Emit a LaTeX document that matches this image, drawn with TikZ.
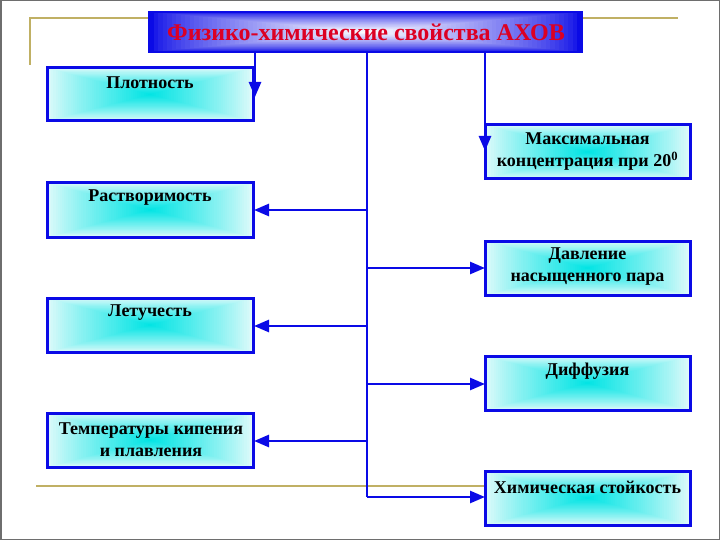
\documentclass[tikz,border=0pt]{standalone}
\usepackage{fontspec}
\setmainfont{Liberation Serif}
\usetikzlibrary{arrows.meta}
\definecolor{bblue}{RGB}{10,10,230}
\definecolor{gold}{RGB}{192,176,100}
\definecolor{frame}{RGB}{110,110,110}
\definecolor{tred}{RGB}{220,0,35}
\definecolor{cy}{RGB}{0,228,228}
\definecolor{cyedge}{RGB}{225,250,250}
% rectangular "from centre" gradient: #1,#2 corner, #3,#4 corner, #5 inner colour, #6 outer colour, #7 exponent
\newcommand{\gradrect}[7]{%
  \pgfmathsetmacro{\gcx}{(#1+#3)/2}%
  \pgfmathsetmacro{\gcy}{(#2+#4)/2}%
  \pgfmathsetmacro{\ghw}{(#3-#1)/2}%
  \pgfmathsetmacro{\ghh}{(#4-#2)/2}%
  \foreach \gi in {0,...,48}{%
    \pgfmathsetmacro{\gf}{1-\gi/48}%
    \pgfmathsetmacro{\gp}{100*(\gi/48)^#7}%
    \fill[color=#5!\gp!#6] ({\gcx-\gf*\ghw},{\gcy-\gf*\ghh}) rectangle ({\gcx+\gf*\ghw},{\gcy+\gf*\ghh});
  }%
}
\tikzset{
  boxline/.style={draw=bblue, line width=3pt},
  lbl/.style={font=\bfseries\fontsize{18}{22}\selectfont, align=center, text=black, inner sep=0pt},
  conn/.style={draw=bblue, line width=2.6pt},
  arr/.style={conn, -{Triangle[length=15pt,width=12pt]}},
  deco/.style={draw=gold, line width=2pt},
}
\begin{document}
\begin{tikzpicture}[x=1pt,y=-1pt]
\useasboundingbox (0,0) rectangle (720,540);
\draw[frame, line width=1.5pt] (0.75,0.75) rectangle (719.25,539.25);
% decorative gold lines
\draw[deco] (30,65) -- (30,18) -- (678,18);
\draw[deco] (36,486) -- (486,486);
% title
\gradrect{149}{12}{582}{52}{white}{bblue}{0.7}
\draw[draw=bblue, line width=2.5pt] (149,12) rectangle (582,52);
\node[font=\bfseries\fontsize{24}{28}\selectfont, text=tred, inner sep=0pt] (title) at (366,32) {Физико-химические свойства АХОВ};
\coordinate (tb1) at (255,52);
\coordinate (tb2) at (367,52);
\coordinate (tb3) at (485,52);
% left boxes
\gradrect{47}{68}{253}{121}{cy}{cyedge}{0.85}
\draw[boxline] (47,68) rectangle (253,121);
\gradrect{47}{183}{253}{237}{cy}{cyedge}{0.85}
\draw[boxline] (47,183) rectangle (253,237);
\gradrect{47}{298}{253}{352}{cy}{cyedge}{0.85}
\draw[boxline] (47,298) rectangle (253,352);
\gradrect{47}{413}{253}{467}{cy}{cyedge}{0.85}
\draw[boxline] (47,413) rectangle (253,467);
% right boxes
\gradrect{485}{125}{690}{179}{cy}{cyedge}{0.85}
\draw[boxline] (485,125) rectangle (690,179);
\gradrect{485}{241}{690}{295}{cy}{cyedge}{0.85}
\draw[boxline] (485,241) rectangle (690,295);
\gradrect{485}{356}{690}{410}{cy}{cyedge}{0.85}
\draw[boxline] (485,356) rectangle (690,410);
\gradrect{485}{471}{690}{525}{cy}{cyedge}{0.85}
\draw[boxline] (485,471) rectangle (690,525);
% labels
\node[lbl] (b1) at (150,83) {Плотность};
\node[lbl] (b2) at (150,198) {Растворимость};
\node[lbl] (b3) at (150,313) {Летучесть};
\node[lbl] (b4) at (151,440) {Температуры кипения\\и плавления};
\node[lbl] (c1) at (587.5,152) {Максимальная\\концентрация при 20$^{\mathbf 0}$};
\node[lbl] (c2) at (587.5,267) {Давление\\насыщенного пара};
\node[lbl] (c3) at (587.5,371) {Диффузия};
\node[lbl] (c4) at (587.5,487) {Химическая стойкость};
% anchors for connectors
\coordinate (p1) at (255,97);
\coordinate (p2) at (254,210);
\coordinate (p3) at (254,326);
\coordinate (p4) at (254,441);
\coordinate (q1) at (485,151);
\coordinate (q2) at (485,268);
\coordinate (q3) at (485,384);
\coordinate (q4) at (485,497);
\coordinate (tr) at (367,497);
% connectors
\draw[arr] (tb1) -- (p1);
\draw[arr] (tb3) -- (q1);
\draw[conn] (tb2) -- (tr);
\draw[arr] (367,210) -- (p2);
\draw[arr] (367,326) -- (p3);
\draw[arr] (367,441) -- (p4);
\draw[arr] (367,268) -- (q2);
\draw[arr] (367,384) -- (q3);
\draw[arr] (tr) -- (q4);
\end{tikzpicture}
\end{document}
